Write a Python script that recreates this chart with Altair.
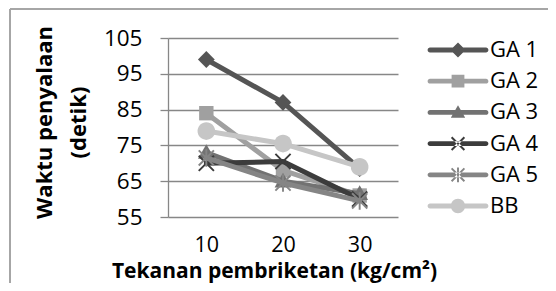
import altair as alt
import pandas as pd

series = ["GA 1", "GA 2", "GA 3", "GA 4", "GA 5", "BB"]
pressure = ["10", "20", "30"]
ga1 = [99, 87, 68.5]
ga2 = [84, 68, 61]
ga3 = [73, 65, 61.5]
ga4 = [70, 70.5, 60]
ga5 = [71.5, 64.5, 59.5]
bb = [79, 75.5, 69]
colors = ["#555555", "#a0a0a0", "#727272", "#3c3c3c", "#858585", "#c6c6c6"]
y_ticks = [55, 65, 75, 85, 95, 105]

values = [ga1, ga2, ga3, ga4, ga5, bb]
rows = []
for s, vals in zip(series, values):
    for p, v in zip(pressure, vals):
        rows.append({"series": s, "tekanan": p, "waktu": v})
df = pd.DataFrame(rows)


def seg(x1, y1, x2, y2, t):
    dx, dy = x2 - x1, y2 - y1
    L = (dx * dx + dy * dy) ** 0.5
    nx, ny = -dy / L * t, dx / L * t
    pts = [(x1 + nx, y1 + ny), (x2 + nx, y2 + ny), (x2 - nx, y2 - ny), (x1 - nx, y1 - ny)]
    return "M" + "L".join(f"{a:.3f},{b:.3f}" for a, b in pts) + "Z"


def diamond(r):
    return f"M0,{-r}L{r},0L0,{r}L{-r},0Z"


def square(r):
    return f"M{-r},{-r}L{r},{-r}L{r},{r}L{-r},{r}Z"


def triangle(r):
    return f"M0,{-r}L{r},{0.75*r}L{-r},{0.75*r}Z"


def xmark(r, t):
    return seg(-r, -r, r, r, t) + seg(-r, r, r, -r, t)


def star(r, t):
    return xmark(r, t) + seg(0, -1.15 * r, 0, 1.15 * r, t)


def circle(r):
    return f"M{r},0A{r},{r} 0 1,1 {-r},0A{r},{r} 0 1,1 {r},0Z"


plot_shapes = [diamond(1.05), square(0.9), triangle(1.05), xmark(0.95, 0.12), star(0.95, 0.12), circle(1.1)]
bar = "M-3.5,-0.3L3.5,-0.3A0.3,0.3 0 0,1 3.5,0.3L-3.5,0.3A0.3,0.3 0 0,1 -3.5,-0.3Z"
legend_shapes = [bar + m for m in [diamond(0.95), square(0.8), triangle(0.9), xmark(0.8, 0.12), star(0.8, 0.12), circle(0.9)]]

FONT = "Open Sans"

xenc = alt.X("tekanan:O", sort=pressure, scale=alt.Scale(type="point", padding=0.5),
             axis=alt.Axis(title="Tekanan pembriketan (kg/cm²)", labelAngle=0, domain=False, ticks=False,
                           tickSize=0, labelPadding=28.5, labelBaseline="middle", labelFontSize=21.5,
                           labelColor="#000000", labelFont=FONT, titleFont=FONT, titleFontSize=21,
                           titleFontWeight="bold", titleColor="#000000", titleBaseline="middle",
                           titleY=54.5, titleX=106))
yenc = alt.Y("waktu:Q", scale=alt.Scale(domain=[55, 105], nice=False, zero=False),
             axis=alt.Axis(values=y_ticks, title=["Waktu penyalaan", "(detik)"], grid=True,
                           gridColor="#878787", gridWidth=1.3, domainColor="#878787", domainWidth=1.3,
                           tickColor="#878787", tickWidth=1.3, tickSize=8, labelPadding=18,
                           labelFontSize=22.5, labelFont=FONT, labelColor="#000000", titleFont=FONT,
                           titleFontSize=22, titleFontWeight="bold", titleColor="#000000",
                           titleLineHeight=34, titleBaseline="bottom", titleAlign="center",
                           titleX=-112, titleY=84))

layers = []
for i, s in enumerate(series):
    sub = alt.Chart(df).transform_filter(alt.datum.series == s)
    line = sub.mark_line(color=colors[i], strokeWidth=5, strokeJoin="round", strokeCap="round").encode(
        x=xenc, y=yenc)
    pts = sub.mark_point(shape=plot_shapes[i], filled=True, fill=colors[i], size=256, opacity=1,
                         strokeWidth=0).encode(x=xenc, y=yenc)
    layers += [line, pts]

legend_layer = alt.Chart(df).mark_point(filled=True, size=256, opacity=1, strokeWidth=0).encode(
    color=alt.Color("series:N", sort=series, scale=alt.Scale(domain=series, range=colors),
                    legend=alt.Legend(title=None, orient="none", legendX=279, legendY=1,
                                      symbolSize=256, labelOffset=21, labelFontSize=22,
                                      labelFont=FONT, labelColor="#000000", rowPadding=9.2,
                                      symbolStrokeWidth=0, padding=0, symbolOpacity=1)),
    shape=alt.Shape("series:N", sort=series, scale=alt.Scale(domain=series, range=legend_shapes))
).transform_filter("false")

border_left = alt.Chart(df).mark_rule(color="#a6a6a6", strokeWidth=1.5).encode(
    x=alt.value(-158), y=alt.value(-29), y2=alt.value(400))
border_top = alt.Chart(df).mark_rule(color="#a6a6a6", strokeWidth=1.5).encode(
    x=alt.value(-158), x2=alt.value(600), y=alt.value(-29))

chart = alt.layer(border_left, border_top, *layers, legend_layer).properties(
    width=230, height=179, autosize="none",
    padding={"left": 160, "top": 30, "right": 150, "bottom": 66},
    background="#ffffff",
).configure_view(stroke=None)

chart.save("out.html", embed_options={"renderer": "svg", "actions": False})
